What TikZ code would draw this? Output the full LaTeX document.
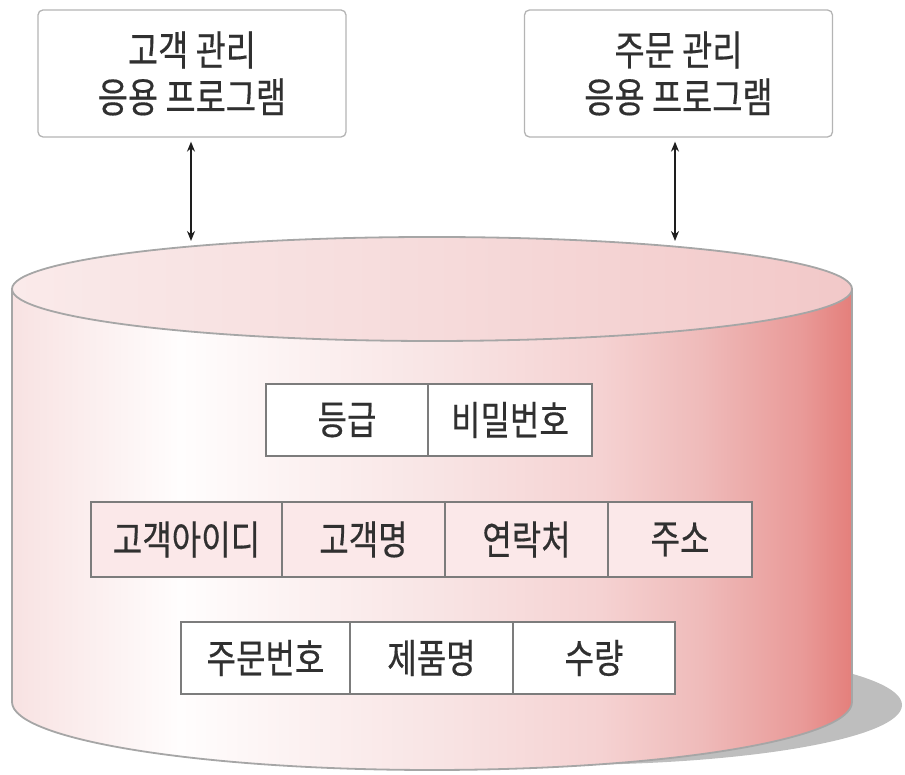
\documentclass[tikz,border=0pt]{standalone}
\usepackage{fontspec}
\newfontfamily\kr[FakeStretch=0.8,FakeBold=0.4]{Noto Sans CJK KR}
\usetikzlibrary{arrows.meta}
\definecolor{txt}{HTML}{303030}
\definecolor{boxgray}{HTML}{B4B4B4}
\definecolor{cellgray}{HTML}{7C7C7C}
\definecolor{cylline}{HTML}{A6A6A6}
\definecolor{rowpink}{HTML}{FBE8E9}
\definecolor{shadowgray}{HTML}{BEBEBE}
\definecolor{arrowblack}{HTML}{1E1E1E}
\definecolor{sA}{HTML}{F8E2E2}
\definecolor{sB}{HTML}{FFFDFD}
\definecolor{sC}{HTML}{F8E3E3}
\definecolor{sD}{HTML}{F5D2D2}
\definecolor{sE}{HTML}{EFBBBA}
\definecolor{sF}{HTML}{E99A98}
\definecolor{sG}{HTML}{E47F7B}
\definecolor{tA}{HTML}{FAEAEA}
\definecolor{tB}{HTML}{F6DBDB}
\definecolor{tC}{HTML}{F2C8C8}
\pgfdeclarehorizontalshading{cylside}{100bp}{color(0bp)=(sA); color(25bp)=(sA); color(35bp)=(sB); color(51bp)=(sC); color(60bp)=(sD); color(66bp)=(sE); color(72bp)=(sF); color(75bp)=(sG); color(100bp)=(sG)}
\pgfdeclarehorizontalshading{cyltop}{100bp}{color(0bp)=(tA); color(25bp)=(tA); color(50bp)=(tB); color(75bp)=(tC); color(100bp)=(tC)}
\begin{document}
\begin{tikzpicture}[x=1pt,y=1pt,
  appbox/.style={draw=boxgray, line width=1.3pt, rounded corners=5pt, fill=white,
    minimum width=308, minimum height=127, align=center, inner sep=0,
    font=\kr\fontsize{41}{47}\selectfont, text=txt},
  cell/.style={draw=cellgray, line width=1.4pt, minimum height=72, inner sep=0,
    fill=white, font=\kr\fontsize{40}{44}\selectfont, text=txt},
  pinkcell/.style={cell, fill=rowpink, minimum height=75},
  dblarrow/.style={{Stealth[length=10pt,width=8pt]}-{Stealth[length=10pt,width=8pt]},
    line width=1.4pt, draw=arrowblack},
  cylstroke/.style={draw=cylline, line width=1.8pt}
]
\useasboundingbox (0,0) rectangle (905,775);

% shadow
\fill[shadowgray] (560,70) ellipse [x radius=342, y radius=60];

% cylinder body
\shade[shading=cylside] (12,486) -- (12,73) arc[start angle=180, end angle=360, x radius=420, y radius=68]
  -- (852,486) arc[start angle=0, end angle=180, x radius=420, y radius=52] -- cycle;
\draw[cylstroke] (12,486) -- (12,73) arc[start angle=180, end angle=360, x radius=420, y radius=68] -- (852,486);
% top ellipse
\shade[shading=cyltop] (432,486) ellipse [x radius=420, y radius=52];
\draw[cylstroke] (432,486) ellipse [x radius=420, y radius=52];

% application boxes
\node[appbox] (lbox) at (192,701.5) {고객 관리\\응용 프로그램};
\node[appbox] (rbox) at (678.5,701.5) {주문 관리\\응용 프로그램};

% arrows
\coordinate (la) at (191,534);
\coordinate (ra) at (675,534);
\draw[dblarrow, shorten <=4pt] (la |- lbox.south) -- (la);
\draw[dblarrow, shorten <=4pt] (ra |- rbox.south) -- (ra);

% row 1
\node[cell, minimum width=162] (c11) at (347,355) {등급};
\node[cell, minimum width=164] (c12) at (510,355) {비밀번호};
% row 2
\node[pinkcell, minimum width=191] (c21) at (186.5,235.5) {고객아이디};
\node[pinkcell, minimum width=163] (c22) at (363.5,235.5) {고객명};
\node[pinkcell, minimum width=163] (c23) at (526.5,235.5) {연락처};
\node[pinkcell, minimum width=144] (c24) at (680,235.5) {주소};
% row 3
\node[cell, minimum width=169] (c31) at (265.5,117) {주문번호};
\node[cell, minimum width=163] (c32) at (431.5,117) {제품명};
\node[cell, minimum width=162] (c33) at (594,117) {수량};
\end{tikzpicture}
\end{document}
